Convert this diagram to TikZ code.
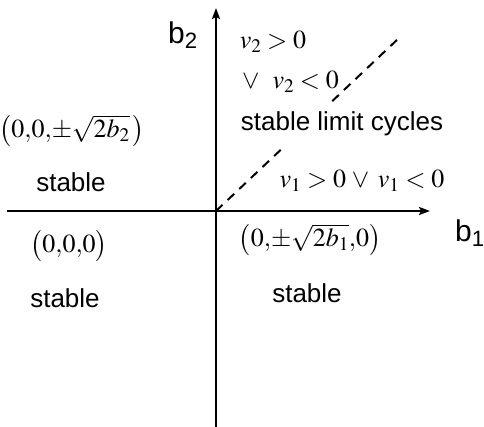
\documentclass[tikz,border=0pt]{standalone}
\usepackage{mathptmx}
\usepackage[no-math]{fontspec}
\setmainfont{Liberation Serif}
\setsansfont{Liberation Sans}
\usetikzlibrary{arrows.meta}
\tikzset{
  axisline/.style={line width=2.4pt,-{Stealth[length=11pt,width=8pt,inset=2pt]}},
  dashline/.style={line width=2pt,dash pattern=on 9pt off 7pt},
  txt/.style={inner sep=0pt,font=\sffamily\fontsize{26}{30}\selectfont},
  blbl/.style={inner sep=0pt,font=\sffamily\fontsize{30}{34}\selectfont},
  pt/.style={inner sep=0pt,font=\fontsize{26}{30}\selectfont},
  cond/.style={inner sep=0pt,font=\fontsize{26}{30}\selectfont}
}
\begin{document}
\begin{tikzpicture}[x=1pt,y=-1pt]
\useasboundingbox (0,0) rectangle (484,427);
\coordinate (O) at (216,211);
\coordinate (xs) at (7,211);
\coordinate (xe) at (430,211);
\coordinate (ys) at (216,427);
\coordinate (ye) at (216,8);
\coordinate (dend) at (399,38);
\draw[axisline] (xs) -- (xe);
\draw[axisline] (ys) -- (ye);
\draw[dashline] (O) -- (dend);
\node[blbl] (b2) at (183,35) {b\textsubscript{2}};
\node[blbl] (b1) at (470,233) {b\textsubscript{1}};
\node[cond] (v2p) at (273,42) {$v_2>0$};
\node[cond,anchor=west] (v2n) at (242,82) {$\vee\ \ v_2<0$};
\node[txt,fill=white,inner xsep=3pt,inner ysep=10pt] (slc) at (342,124) {stable limit cycles};
\node[cond] (v1) at (362,181) {$v_1>0\;{\vee}\;\,v_1<0$};
\node[pt] (p2) at (72,131) {$\bigl(0{,}0{,}{\pm}\sqrt{2b_2}\,\bigr)$};
\node[txt] (s2) at (71,182) {stable};
\node[pt] (p0) at (69,246) {$\bigl(0{,}0{,}0\bigr)$};
\node[txt] (s0) at (65,298) {stable};
\node[pt] (p1) at (310,240) {$\bigl(0{,}{\pm}\sqrt{2b_1}{,}0\bigr)$};
\node[txt] (s1) at (307,293) {stable};
\end{tikzpicture}
\end{document}
